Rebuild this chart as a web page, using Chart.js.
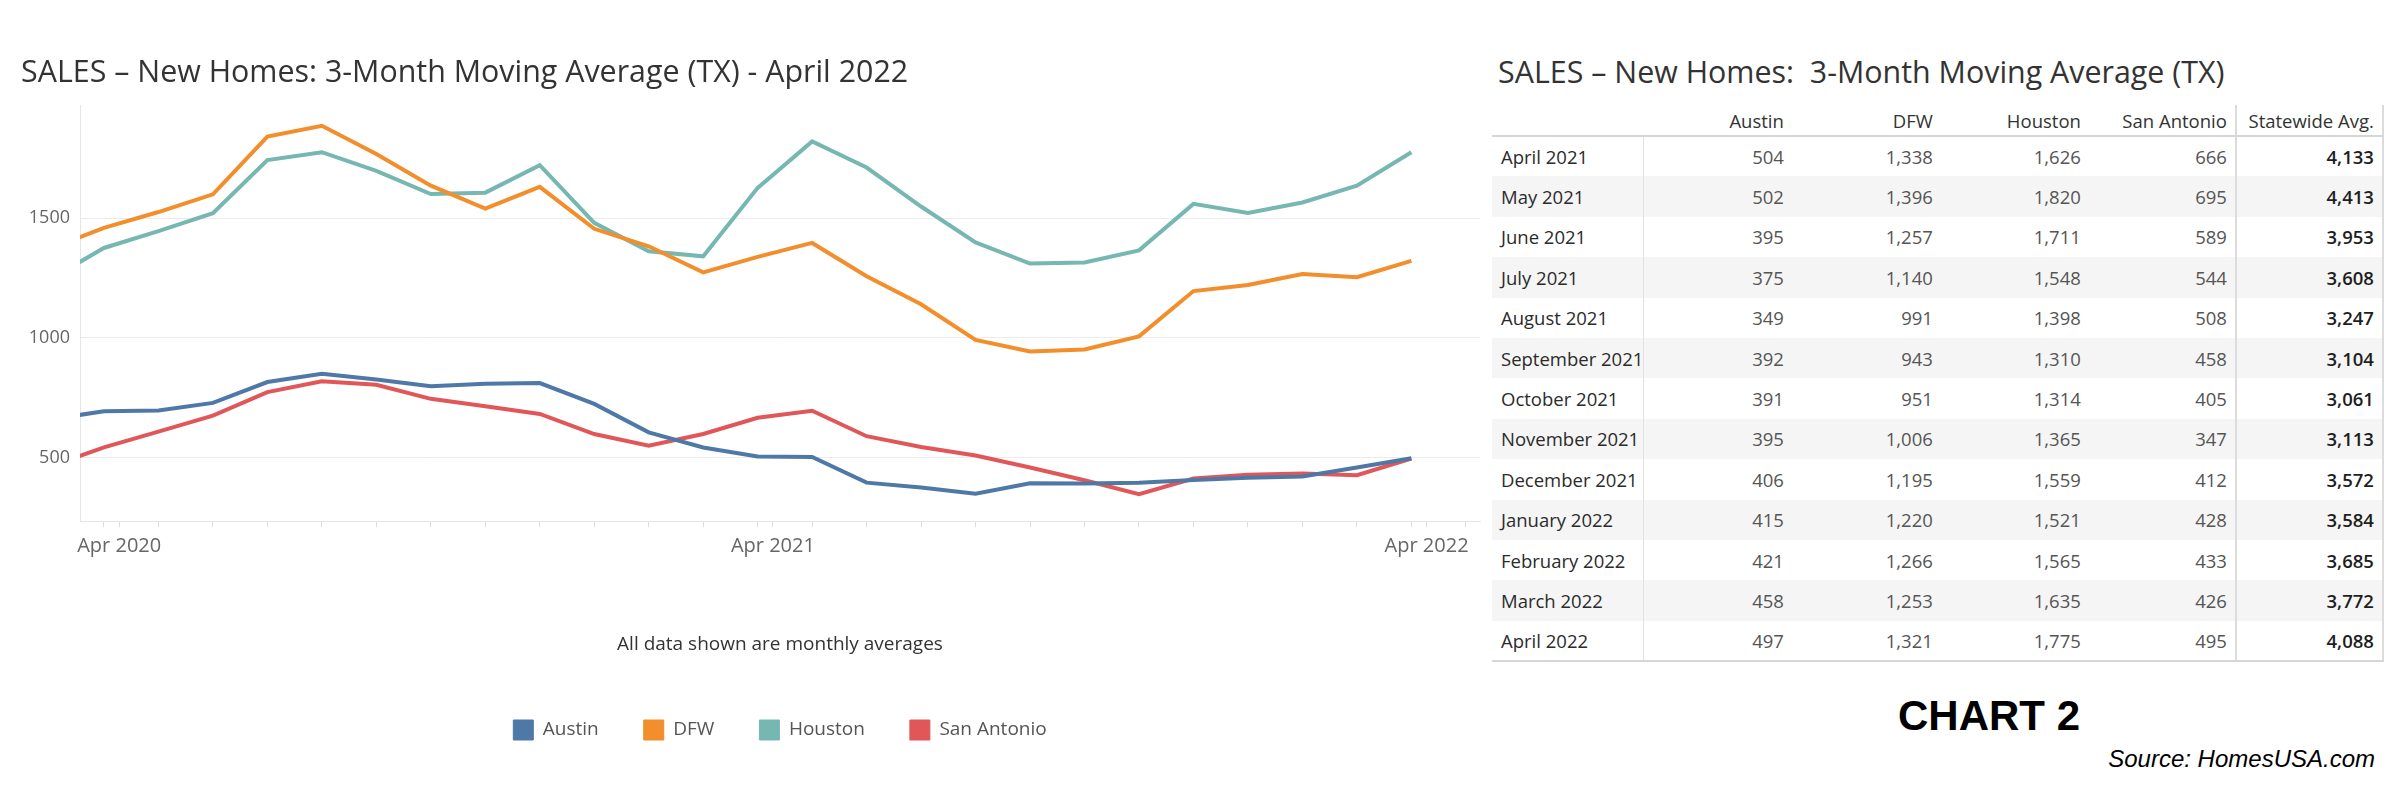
<!DOCTYPE html>
<html>
<head>
<meta charset="utf-8">
<script src="https://cdn.jsdelivr.net/npm/chart.js@4.4.1/dist/chart.umd.min.js"></script>
<style>
  html, body { margin: 0; padding: 0; background: #fff; }
  body { width: 2400px; height: 800px; position: relative; overflow: hidden; font-family: 'Open Sans', sans-serif; }
  #chartBox { position: absolute; left: 0; top: 0; width: 1490px; height: 800px; }
  .title-right { position: absolute; left: 1498px; top: 51px; font-size: 30.4px; color: #333; white-space: pre; line-height: 42px; }
  #salesTable { position: absolute; left: 1492px; top: 105px; border-collapse: collapse; table-layout: fixed; font-size: 18.5px; }
  #salesTable th { height: 30px; padding: 0 8px 0 0; font-weight: normal; color: #333; text-align: right; vertical-align: middle; border-bottom: 2px solid #d6d6d6; white-space: nowrap; }
  #salesTable td { height: 40.4px; padding: 0 8px 0 0; color: #555; text-align: right; vertical-align: middle; box-sizing: border-box; white-space: nowrap; }
  #salesTable td.lbl { text-align: left; padding: 0 0 0 9px; color: #2b2b2b; border-right: 1px solid #e2e2e2; overflow: visible; }
  #salesTable .sw { border-left: 2px solid #dcdcdc; border-right: 2px solid #dcdcdc; }
  #salesTable td.sw { color: #1e1e1e; font-weight: 600; }
  #salesTable tr.shade td { background: #f5f5f5; }
  #salesTable tr:last-child td { border-bottom: 2px solid #d6d6d6; }
  .chart-num { position: absolute; left: 1898px; top: 692px; font-family: 'Liberation Sans', Arial, sans-serif; font-weight: bold; font-size: 42px; color: #000; }
  .source { position: absolute; right: 25px; top: 745px; font-family: 'Liberation Sans', Arial, sans-serif; font-style: italic; font-size: 24px; color: #000; }
</style>
</head>
<body>
<div id="chartBox"><canvas id="salesChart" width="1490" height="800"></canvas></div>
<div class="title-right">SALES – New Homes:  3-Month Moving Average (TX)</div>
<table id="salesTable"></table>
<div class="chart-num">CHART 2</div>
<div class="source">Source: HomesUSA.com</div>

<script>
// Months plotted, Mar 2020 .. Apr 2022 (Mar 2020 sits just left of the axis start)
const months = ['Mar 2020', 'Apr 2020', 'May 2020', 'Jun 2020', 'Jul 2020', 'Aug 2020', 'Sep 2020',
  'Oct 2020', 'Nov 2020', 'Dec 2020', 'Jan 2021', 'Feb 2021', 'Mar 2021', 'Apr 2021', 'May 2021',
  'Jun 2021', 'Jul 2021', 'Aug 2021', 'Sep 2021', 'Oct 2021', 'Nov 2021', 'Dec 2021', 'Jan 2022',
  'Feb 2022', 'Mar 2022', 'Apr 2022'];

const austin = [659, 693, 696, 728, 815, 850, 826, 798, 808, 811, 724, 605, 542,
  504, 502, 395, 375, 349, 392, 391, 395, 406, 415, 421, 458, 497];
const dfw = [1370, 1459, 1525, 1599, 1840, 1885, 1767, 1635, 1539, 1630, 1455, 1382, 1273,
  1338, 1396, 1257, 1140, 991, 943, 951, 1006, 1195, 1220, 1266, 1253, 1321];
const houston = [1243, 1375, 1445, 1520, 1742, 1775, 1697, 1600, 1606, 1721, 1480, 1361, 1340,
  1626, 1820, 1711, 1548, 1398, 1310, 1314, 1365, 1559, 1521, 1565, 1635, 1775];
const sanAntonio = [462, 542, 608, 675, 773, 818, 804, 745, 714, 682, 598, 549, 598,
  666, 695, 589, 544, 508, 458, 405, 347, 412, 428, 433, 426, 495];

// Table (last 13 months)
const tableMonths = ['April 2021', 'May 2021', 'June 2021', 'July 2021', 'August 2021', 'September 2021',
  'October 2021', 'November 2021', 'December 2021', 'January 2022', 'February 2022', 'March 2022', 'April 2022'];
const statewide = [4133, 4413, 3953, 3608, 3247, 3104, 3061, 3113, 3572, 3584, 3685, 3772, 4088];
const tableHeaders = ['', 'Austin', 'DFW', 'Houston', 'San Antonio', 'Statewide Avg.'];

const yTicks = [500, 1000, 1500];
const yMin = 234;
const yMax = 1970;
const majorMonths = [1, 13, 25]; // indexes in months[] that get a label
const majorOffset = 0.28;        // labels sit a little right of the month point

const colors = { austin: '#4e79a7', dfw: '#f28e2b', houston: '#76b7b2', sanAntonio: '#e15759' };

Chart.defaults.font.family = "'Open Sans', sans-serif";

function toPoints(values) {
  return values.map((v, i) => ({ x: i - 1, y: v }));
}

function makeSet(label, values, color) {
  return {
    label: label,
    data: toPoints(values),
    borderColor: color,
    backgroundColor: color,
    borderWidth: 4,
    pointRadius: 0,
    tension: 0
  };
}

const ctx = document.getElementById('salesChart').getContext('2d');

const salesChart = new Chart(ctx, {
  type: 'line',
  data: {
    datasets: [
      makeSet('Austin', austin, colors.austin),
      makeSet('DFW', dfw, colors.dfw),
      makeSet('Houston', houston, colors.houston),
      makeSet('San Antonio', sanAntonio, colors.sanAntonio)
    ]
  },
  options: {
    responsive: false,
    animation: false,
    devicePixelRatio: 1,
    layout: { padding: { left: 21, right: 10, top: 0, bottom: 50 } },
    plugins: {
      title: {
        display: true,
        text: 'SALES – New Homes: 3-Month Moving Average (TX) - April 2022',
        align: 'start',
        color: '#333',
        font: { size: 30.4, weight: 'normal' },
        padding: { top: 55, bottom: 14 }
      },
      legend: {
        display: true,
        position: 'bottom',
        fullSize: false,
        labels: {
          boxWidth: 20,
          boxHeight: 20,
          padding: 45,
          color: '#555',
          font: { size: 19 },
          generateLabels: (chart) => {
            const items = Chart.defaults.plugins.legend.labels.generateLabels(chart);
            items.forEach(it => { it.lineWidth = 1; });
            return items;
          }
        }
      },
      tooltip: { enabled: false }
    },
    scales: {
      x: {
        type: 'linear',
        min: -0.44,
        max: 25.26,
        grid: { drawOnChartArea: false, drawTicks: true, tickLength: 6, tickColor: '#dddddd' },
        border: { display: true, color: '#e6e6e6' },
        afterBuildTicks: (scale) => {
          const t = [];
          for (let i = 0; i <= 25; i++) t.push({ value: i });
          majorMonths.forEach(m => t.push({ value: m - 1 + majorOffset }));
          t.sort((a, b) => a.value - b.value);
          scale.ticks = t;
        },
        ticks: {
          autoSkip: false,
          maxRotation: 0,
          padding: 7,
          color: '#666',
          font: { size: 20 },
          callback: (value) => {
            const m = majorMonths.find(k => Math.abs(k - 1 + majorOffset - value) < 0.01);
            return m !== undefined ? months[m] : '';
          }
        },
        title: {
          display: true,
          text: 'All data shown are monthly averages',
          color: '#333',
          font: { size: 19 },
          padding: { top: 68, bottom: 19 }
        }
      },
      y: {
        min: yMin,
        max: yMax,
        grid: { color: '#ececec', drawTicks: false },
        border: { display: true, color: '#e6e6e6' },
        afterBuildTicks: (scale) => {
          scale.ticks = yTicks.map(v => ({ value: v }));
        },
        afterFit: (scale) => { scale.width = 59; },
        ticks: {
          padding: 10,
          color: '#666',
          font: { size: 18 },
          callback: (v) => String(v)
        }
      }
    }
  }
});

// Build the table next to the chart
function fmt(n) {
  return n.toLocaleString('en-US');
}

function buildTable() {
  const table = document.getElementById('salesTable');
  const widths = [150, 148, 149, 148, 147, 147];
  const colgroup = document.createElement('colgroup');
  widths.forEach(w => {
    const c = document.createElement('col');
    c.style.width = w + 'px';
    colgroup.appendChild(c);
  });
  table.appendChild(colgroup);

  const head = document.createElement('tr');
  tableHeaders.forEach((h, i) => {
    const th = document.createElement('th');
    th.textContent = h;
    if (i === 5) th.className = 'sw';
    head.appendChild(th);
  });
  table.appendChild(head);

  const n = tableMonths.length;
  const start = months.length - n;
  tableMonths.forEach((m, r) => {
    const tr = document.createElement('tr');
    if (r % 2 === 1) tr.className = 'shade';
    const cells = [m, fmt(austin[start + r]), fmt(dfw[start + r]), fmt(houston[start + r]),
      fmt(sanAntonio[start + r]), fmt(statewide[r])];
    cells.forEach((c, i) => {
      const td = document.createElement('td');
      td.textContent = c;
      if (i === 0) td.className = 'lbl';
      if (i === 5) td.className = 'sw';
      tr.appendChild(td);
    });
    table.appendChild(tr);
  });
}

buildTable();
</script>
</body>
</html>
